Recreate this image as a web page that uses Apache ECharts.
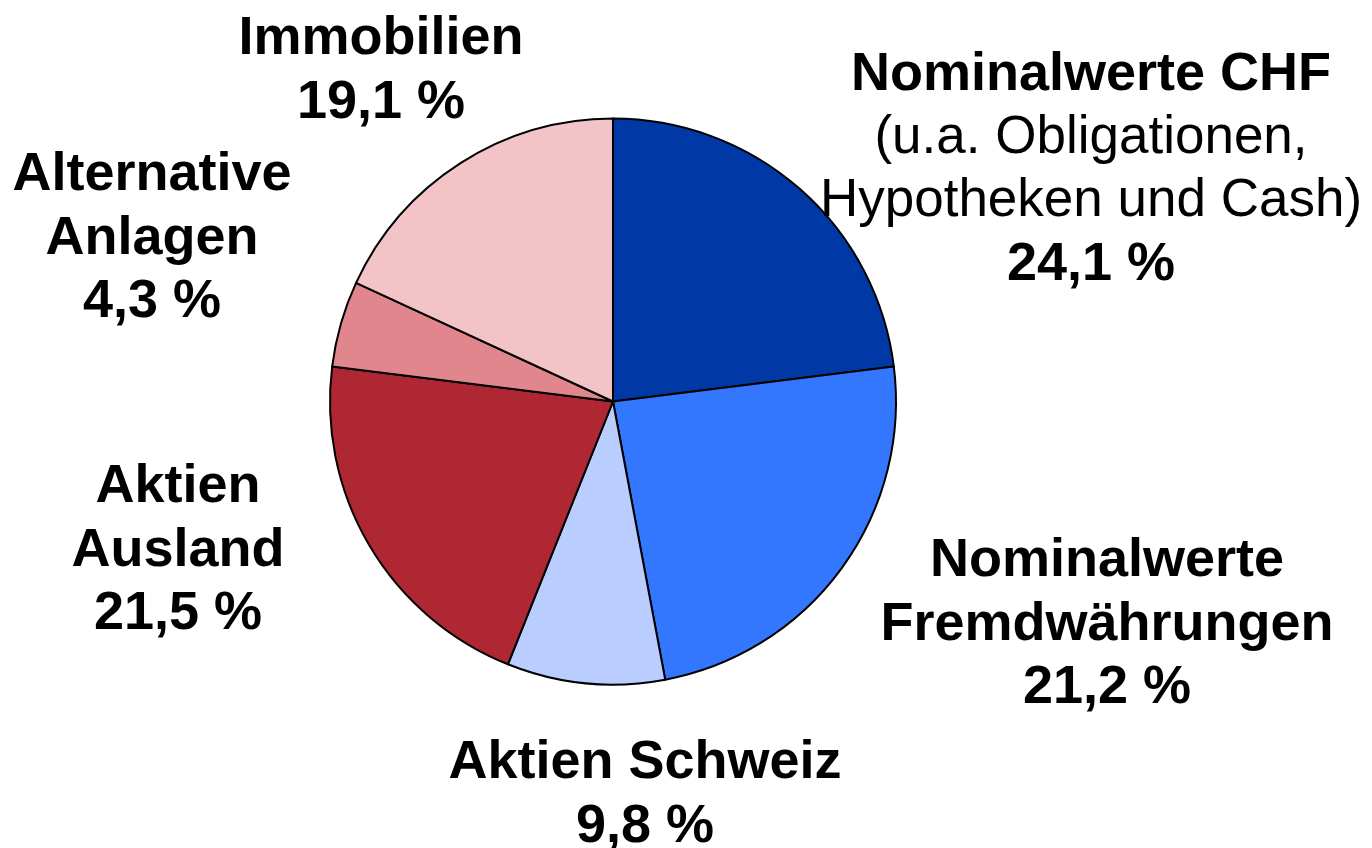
<!DOCTYPE html>
<html>
<head>
<meta charset="utf-8">
<script src="https://cdn.jsdelivr.net/npm/echarts@6/dist/echarts.min.js"></script>
<style>
html,body{margin:0;padding:0;background:#fff;}
#chart{width:1372px;height:848px;}
</style>
</head>
<body>
<div id="chart"></div>
<script>
// Categories (clockwise from 12 o'clock)
var categories = ['Nominalwerte CHF', 'Nominalwerte Fremdwährungen', 'Aktien Schweiz', 'Aktien Ausland', 'Alternative Anlagen', 'Immobilien'];
// Slice shares as drawn in the picture (percent of the circle)
var sliceShares = [23.0, 24.0, 9.0, 20.9, 4.9, 18.1];
// Percentages printed in the labels
var percentLabels = ['24,1 %', '21,2 %', '9,8 %', '21,5 %', '4,3 %', '19,1 %'];
// Label title lines
var titleLines = [['Nominalwerte CHF'], ['Nominalwerte', 'Fremdwährungen'], ['Aktien Schweiz'], ['Aktien', 'Ausland'], ['Alternative', 'Anlagen'], ['Immobilien']];
// Label note lines (regular weight)
var noteLines = [['(u.a. Obligationen,', 'Hypotheken und Cash)'], [], [], [], [], []];

var colors = ['#0039A6', '#3377FF', '#B9CEFF', '#B02734', '#E2868E', '#F2C3C7'];
var labelAnchors = [[1091, 170], [1107, 625], [645, 795], [178, 551], [152, 239], [381, 71]];

var chart = echarts.init(document.getElementById('chart'), null, {renderer: 'canvas'});

var data = categories.map(function (c, i) {
  return {name: c, value: sliceShares[i], itemStyle: {color: colors[i]}};
});

chart.setOption({
  animation: false,
  backgroundColor: '#ffffff',
  series: [{
    type: 'pie',
    center: [613, 401.5],
    radius: [0, 283],
    startAngle: 90,
    clockwise: true,
    avoidLabelOverlap: false,
    itemStyle: {borderColor: '#000000', borderWidth: 2},
    label: {
      show: true,
      position: 'outside',
      align: 'center',
      fontFamily: 'Liberation Sans, Arial, sans-serif',
      color: '#000',
      formatter: function (p) {
        var i = p.dataIndex;
        var parts = [];
        titleLines[i].forEach(function (t) { parts.push('{b|' + t + '}'); });
        noteLines[i].forEach(function (t) { parts.push('{n|' + t + '}'); });
        parts.push('{b|' + percentLabels[i] + '}');
        return parts.join('\n');
      },
      rich: {
        b: {fontSize: 54, fontWeight: 'bold', lineHeight: 63.5, color: '#000', fontFamily: 'Liberation Sans, Arial, sans-serif', align: 'center'},
        n: {fontSize: 53, fontWeight: 'normal', lineHeight: 63.5, color: '#000', fontFamily: 'Liberation Sans, Arial, sans-serif', align: 'center'}
      }
    },
    labelLine: {show: false},
    labelLayout: function (params) {
      var a = labelAnchors[params.dataIndex];
      return {x: a[0], y: a[1], align: 'center', verticalAlign: 'middle', hideOverlap: false, moveOverlap: null};
    },
    emphasis: {disabled: true},
    data: data
  }]
});
</script>
</body>
</html>
